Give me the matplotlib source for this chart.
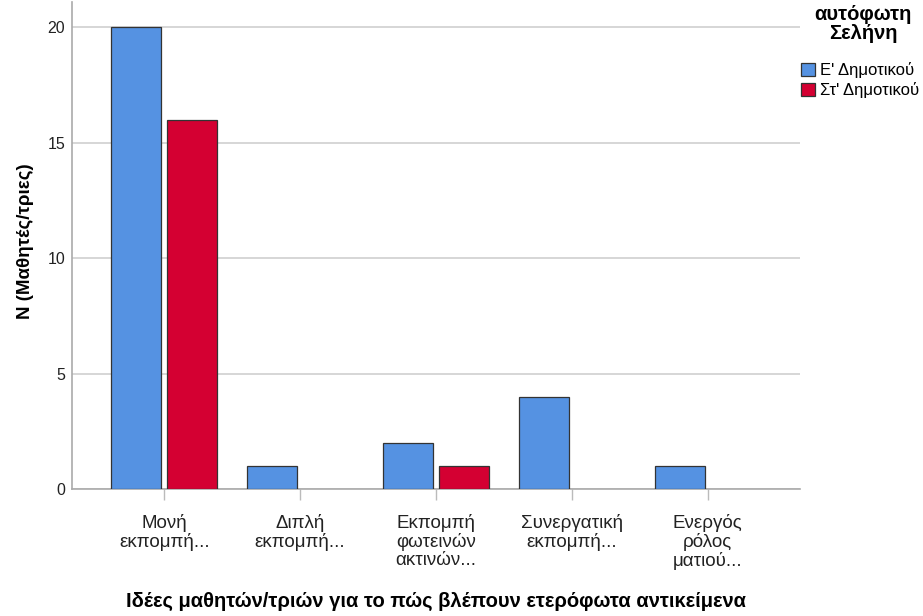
import matplotlib
matplotlib.use("Agg")
import matplotlib.pyplot as plt
import numpy as np
from matplotlib.patches import Patch

plt.rcParams['font.family'] = ['Liberation Sans', 'DejaVu Sans']

categories = ["Μονή\nεκπομπή...", "Διπλή\nεκπομπή...", "Εκπομπή\nφωτεινών\nακτινών...",
              "Συνεργατική\nεκπομπή...", "Ενεργός\nρόλος\nματιού..."]
series_names = ["Ε' Δημοτικού", "Στ' Δημοτικού"]
grade5 = [20, 1, 2, 4, 1]
grade6 = [16, 0, 1, 0, 0]
colors = ["#5592E2", "#D40032"]

fig = plt.figure(figsize=(9.23, 6.16), dpi=100)
ax = fig.add_axes([72/923, (616-489)/616, (800-72)/923, (489-2)/616])

x = np.arange(len(categories))
w = 0.368
off = 0.206
for vals, sign, col in [(grade5, -1, colors[0]), (grade6, 1, colors[1])]:
    xs = [xi + sign*off for xi, v in zip(x, vals) if v > 0]
    vs = [v for v in vals if v > 0]
    ax.bar(xs, vs, width=w, color=col, edgecolor="#333333", linewidth=0.9, zorder=3)

ax.set_xlim(-0.68, 4.68)
ax.set_ylim(0, 21.1)
ax.set_yticks([0, 5, 10, 15, 20])
ax.yaxis.grid(True, color="#D0D0D0", linewidth=1.2, zorder=0)
ax.set_axisbelow(True)
ax.set_xticks(x)
ax.set_xticklabels(categories, fontsize=13.5, color="#222222", linespacing=1.08)
ax.tick_params(axis='y', length=0, labelsize=11.5, labelcolor="#222222", pad=5)
ax.tick_params(axis='x', length=8, color="#BBBBBB", width=1, pad=10)
for s in ["top", "right"]:
    ax.spines[s].set_visible(False)
for s in ["left", "bottom"]:
    ax.spines[s].set_color("#AAAAAA")
    ax.spines[s].set_linewidth(1.2)

fig.text(26/923, 1 - 241/616, "Ν (Μαθητές/τριες)", rotation=90, ha="center", va="center",
         fontsize=13.5, fontweight="bold")
fig.text(436/923, 1 - 601/616, "Ιδέες μαθητών/τριών για το πώς βλέπουν ετερόφωτα αντικείμενα",
         ha="center", va="center", fontsize=14.5, fontweight="bold")

fig.text(863/923, 1 - 24/616, "αυτόφωτη\nΣελήνη", ha="center", va="center",
         fontsize=14.5, fontweight="bold", linespacing=1.0)
handles = [Patch(facecolor=c, edgecolor="#333333", linewidth=0.9) for c in colors]
fig.legend(handles, series_names, loc="upper left", bbox_to_anchor=(801/923, 1 - 62/616),
           frameon=False, fontsize=12, handlelength=0.85, handleheight=0.85,
           handletextpad=0.3, labelspacing=0.25, borderaxespad=0, borderpad=0)

fig.savefig("out.png", dpi=100)
